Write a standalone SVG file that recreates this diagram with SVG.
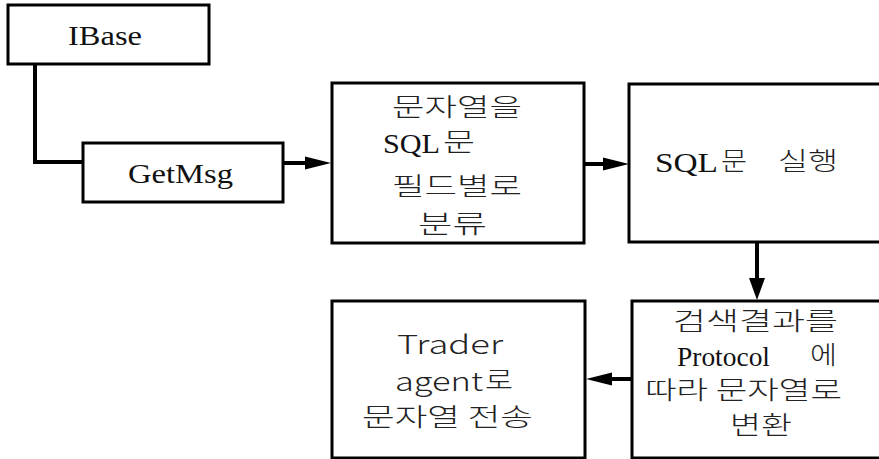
<svg xmlns="http://www.w3.org/2000/svg" width="879" height="459" viewBox="0 0 879 459">
  <style>
    .box { fill: #ffffff; stroke: #000000; stroke-width: 3; }
    .wire { fill: none; stroke: #000000; stroke-width: 4; }
    .sr { font-family: "Liberation Serif", "Times New Roman", serif; font-size: 27px; fill: #111111; }
    .kr { font-family: "Noto Sans CJK KR", "Noto Sans", sans-serif; font-size: 25px; font-weight: 300; fill: #222222; }
    .ss { font-family: "Noto Sans CJK KR", "Liberation Sans", sans-serif; font-size: 26px; font-weight: 300; fill: #222222; }
  </style>
  <defs>
    <marker id="arrow" markerUnits="userSpaceOnUse" markerWidth="26" markerHeight="14" refX="14" refY="7" orient="auto">
      <path d="M0,0.5 L26,7 L0,13.5 z" fill="#000000"/>
    </marker>
    <marker id="arrowDown" markerUnits="userSpaceOnUse" markerWidth="22" markerHeight="18" refX="10" refY="9" orient="auto">
      <path d="M0,1 L22,9 L0,17 z" fill="#000000"/>
    </marker>
  </defs>

  <!-- connectors -->
  <g id="connectors">
    <polyline class="wire" points="35,64 35,162 83,162"/>
    <line class="wire" x1="283" y1="163" x2="319" y2="163" marker-end="url(#arrow)"/>
    <line class="wire" x1="584" y1="164" x2="617" y2="164" marker-end="url(#arrow)"/>
    <line class="wire" x1="757" y1="242" x2="757" y2="288" stroke-width="5" marker-end="url(#arrowDown)"/>
    <line class="wire" x1="632" y1="379" x2="598" y2="379" marker-end="url(#arrow)"/>
  </g>

  <!-- IBase -->
  <g id="ibase">
    <rect class="box" x="8" y="5" width="201" height="59"/>
    <text class="sr" x="68" y="45" textLength="74" lengthAdjust="spacingAndGlyphs">IBase</text>
  </g>

  <!-- GetMsg -->
  <g id="getmsg">
    <rect class="box" x="83" y="143" width="200" height="59"/>
    <text class="sr" x="128" y="183" textLength="105" lengthAdjust="spacingAndGlyphs">GetMsg</text>
  </g>

  <!-- parse string into SQL fields -->
  <g id="parse">
    <rect class="box" x="332" y="83" width="252" height="160"/>
    <text class="kr" x="392" y="116" textLength="130" lengthAdjust="spacingAndGlyphs">문자열을</text>
    <text class="sr" x="383" y="153" textLength="57" lengthAdjust="spacingAndGlyphs">SQL</text>
    <text class="kr" x="443" y="151" textLength="32" lengthAdjust="spacingAndGlyphs">문</text>
    <text class="kr" x="392" y="195" textLength="130" lengthAdjust="spacingAndGlyphs">필드별로</text>
    <text class="kr" x="418" y="233" textLength="69" lengthAdjust="spacingAndGlyphs">분류</text>
  </g>

  <!-- execute SQL -->
  <g id="execute">
    <rect class="box" x="629" y="84" width="262" height="158"/>
    <text class="sr" x="655" y="172" font-size="29" textLength="63" lengthAdjust="spacingAndGlyphs">SQL</text>
    <text class="kr" x="721" y="170" textLength="26" lengthAdjust="spacingAndGlyphs">문</text>
    <text class="kr" x="778" y="170" textLength="60" lengthAdjust="spacingAndGlyphs">실행</text>
  </g>

  <!-- convert result by protocol -->
  <g id="convert">
    <rect class="box" x="632" y="301" width="259" height="157"/>
    <text class="kr" x="673" y="330" textLength="165" lengthAdjust="spacingAndGlyphs">검색결과를</text>
    <text class="sr" x="677" y="366" font-size="28" textLength="93" lengthAdjust="spacingAndGlyphs">Protocol</text>
    <text class="kr" x="810" y="364" textLength="27" lengthAdjust="spacingAndGlyphs">에</text>
    <text class="kr" x="645" y="399" textLength="197" lengthAdjust="spacingAndGlyphs">따라 문자열로</text>
    <text class="kr" x="730" y="434" textLength="62" lengthAdjust="spacingAndGlyphs">변환</text>
  </g>

  <!-- send to trader agent -->
  <g id="send">
    <rect class="box" x="332" y="301" width="253" height="157"/>
    <text class="ss" x="397" y="354" textLength="106" lengthAdjust="spacingAndGlyphs">Trader</text>
    <text class="ss" x="395" y="391" textLength="88" lengthAdjust="spacingAndGlyphs">agent</text>
    <text class="kr" x="485" y="389" textLength="28" lengthAdjust="spacingAndGlyphs">로</text>
    <text class="kr" x="362" y="426" textLength="171" lengthAdjust="spacingAndGlyphs">문자열 전송</text>
  </g>
</svg>
